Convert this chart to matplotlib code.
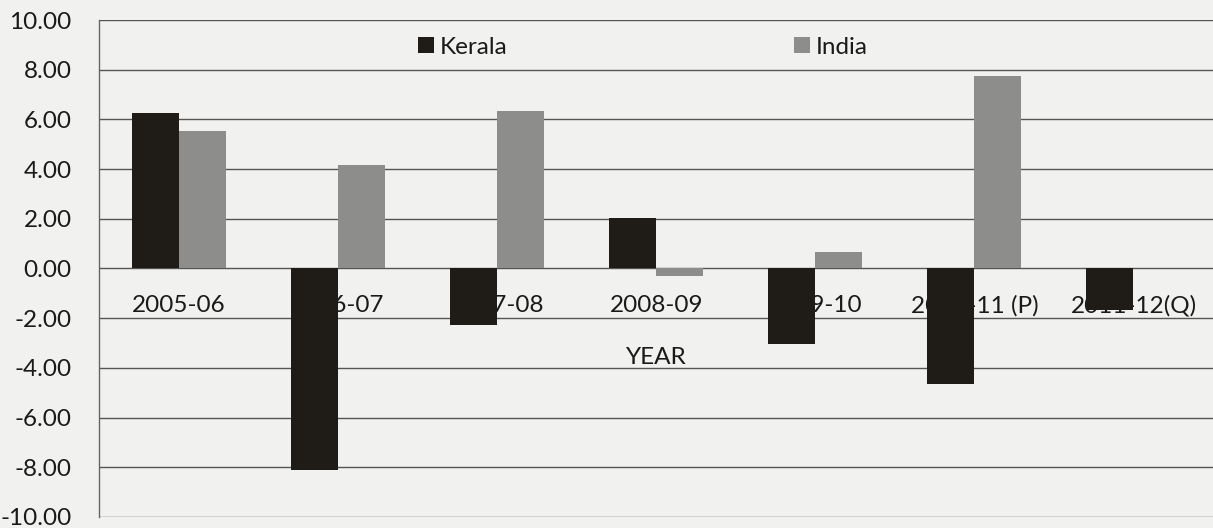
import matplotlib
matplotlib.use("Agg")
import matplotlib.pyplot as plt
import numpy as np

years = ["2005-06", "2006-07", "2007-08", "2008-09", "2009-10", "2010-11 (P)", "2011-12(Q)"]
kerala = [6.25, -8.13, -2.27, 2.05, -3.05, -4.66, -1.68]
india = [5.55, 4.16, 6.34, -0.30, 0.65, 7.76, 0.0]
yticks = [-10, -8, -6, -4, -2, 0, 2, 4, 6, 8, 10]

plt.rcParams['font.family'] = ['Lato', 'DejaVu Sans']

bg = '#f1f1f0'
fs = 17.5
fig = plt.figure(figsize=(12.13, 5.28), dpi=100, facecolor=bg)
ax = fig.add_axes([0.082, 0.021, 0.918, 0.941])
ax.set_facecolor(bg)

x = np.arange(len(years))
w = 0.296
ax.bar(x - w / 2, kerala, width=w, color='#1f1c18', label='Kerala', zorder=3)
ax.bar(x + w / 2, india, width=w, color='#8d8d8b', label='India', zorder=3)

ax.set_xlim(-0.5, len(years) - 0.5)
ax.set_ylim(-10, 10)
ax.set_yticks(yticks)
ax.set_yticklabels([f"{v:.2f}" for v in yticks], fontsize=fs, color='#1a1a1a')
ax.tick_params(axis='y', length=0, pad=20)
ax.set_xticks([])
ax.grid(axis='y', color='#555555', linewidth=1.0, zorder=1)
for s in ['top', 'right', 'bottom']:
    ax.spines[s].set_visible(False)
ax.spines['left'].set_color('#666666')
ax.spines['left'].set_linewidth(1.0)

for i, lab in enumerate(years):
    ax.text(i, -1.5, lab, ha='center', va='center', fontsize=fs, color='#1a1a1a', zorder=2)

ax.text((len(years) - 1) / 2, -3.6, 'YEAR', ha='center', va='center', fontsize=fs, color='#1a1a1a', zorder=2)

leg = ax.legend(loc='center', bbox_to_anchor=(0.488, 0.945), ncol=2, frameon=False,
                fontsize=fs, handlelength=0.65, handleheight=0.65, handletextpad=0.25,
                columnspacing=11.8)
for t in leg.get_texts():
    t.set_color('#1a1a1a')

fig.savefig('out.png', dpi=100, facecolor=bg)
